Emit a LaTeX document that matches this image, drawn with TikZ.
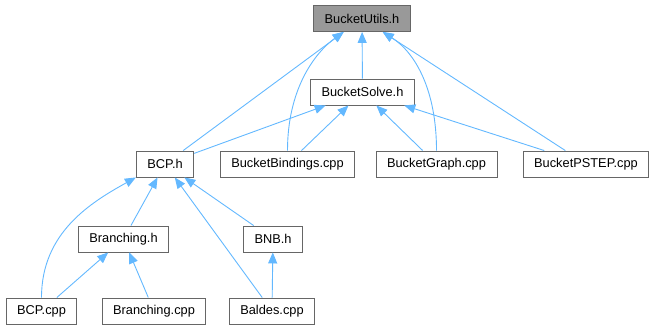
\documentclass[tikz,border=0pt]{standalone}
\usepackage{fontspec}
\setmainfont{Liberation Sans}
\usepackage{tikz}
\usetikzlibrary{arrows.meta}

\definecolor{edgeblue}{HTML}{63B8FF}
\definecolor{boxline}{HTML}{666666}
\definecolor{rootfill}{HTML}{999999}

\begin{document}
\begin{tikzpicture}[
  x=1pt, y=1pt,
  font=\fontsize{12.8}{14}\selectfont,
  file/.style={draw=boxline, fill=white, line width=0.9pt, minimum height=26pt, inner xsep=11pt, inner ysep=0pt},
  root/.style={file, fill=rootfill},
  dep/.style={edgeblue, line width=0.9pt, {Triangle[length=11pt,width=9pt]}-}
]
  \useasboundingbox (0,0) rectangle (660,331);

  % headers and sources, top to bottom
  \node[root] (utils) at (362,312.5) {BucketUtils.h};
  \node[file] (solve) at (362.5,239) {BucketSolve.h};

  \node[file] (bcp)   at (165,167)   {BCP.h};
  \node[file] (bind)  at (287.5,167) {BucketBindings.cpp};
  \node[file] (graph) at (436.5,167) {BucketGraph.cpp};
  \node[file] (pstep) at (586,167)   {BucketPSTEP.cpp};

  \node[file] (branch) at (123.5,92) {Branching.h};
  \node[file] (bnb)    at (273,92)   {BNB.h};

  \node[file] (bcpcpp)    at (41.5,20) {BCP.cpp};
  \node[file] (branchcpp) at (154,20)  {Branching.cpp};
  \node[file] (baldes)    at (272,20)  {Baldes.cpp};

  % include edges (tip at the included file)
  \draw[dep] (utils) -- (bcp);
  \draw[dep] (utils.216.5) .. controls +(-30,-22) and +(0,60) .. (bind.north);
  \draw[dep] (utils.-33) .. controls +(33,-21) and +(0,60) .. (graph.north);
  \draw[dep] (utils) -- (pstep);
  \draw[dep] (utils) -- (solve);

  \draw[dep] (solve) -- (bcp);
  \draw[dep] (solve) -- (bind);
  \draw[dep] (solve) -- (graph);
  \draw[dep] (solve) -- (pstep);

  \draw[dep] (bcp.south west) .. controls +(-45,-25) and +(0,65) .. (bcpcpp.north);
  \draw[dep] (bcp) -- (branch);
  \draw[dep] (bcp) -- (bnb);
  \draw[dep] (bcp) -- (baldes);

  \draw[dep] (branch) -- (bcpcpp);
  \draw[dep] (branch) -- (branchcpp);
  \draw[dep] (bnb) -- (baldes);
\end{tikzpicture}
\end{document}
